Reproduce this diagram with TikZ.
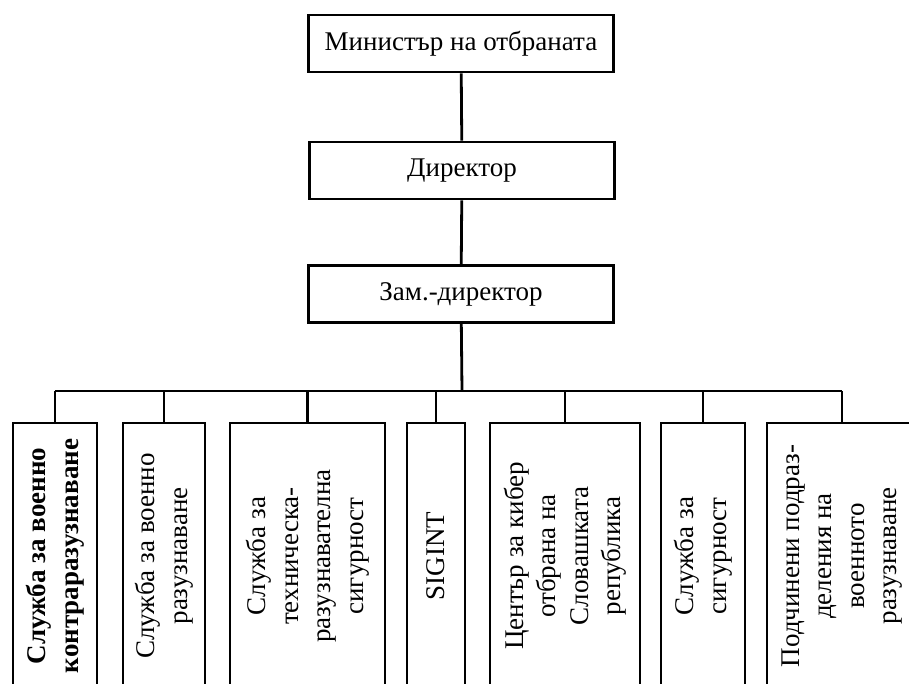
\documentclass[tikz,border=0pt]{standalone}
\usepackage{fontspec}
\setmainfont{Liberation Serif}
\begin{document}
\begin{tikzpicture}[x=1pt,y=1pt,
  box/.style={draw=black, line width=2.6pt, fill=white, inner sep=0pt, align=center,
    font=\fontsize{27}{32.5}\selectfont},
  topbox/.style={box, minimum width=305pt, minimum height=57pt},
  unit/.style={box, rotate=90, minimum width=266pt},
  link/.style={draw=black, line width=2.8pt}]
\useasboundingbox (0,0) rectangle (909,684);
\node[topbox] (min) at (461,640.5) {Министър на отбраната};
\node[topbox] (dir) at (462,513.5) {Директор};
\node[topbox] (zam) at (461,390) {Зам.-директор};
\coordinate (bus) at (462,293);
\node[unit, minimum height=84pt] (b1) at (55,128) {\bfseries Служба за военно\\\bfseries контраразузнаване};
\node[unit, minimum height=82pt] (b2) at (164,128) {Служба за военно\\разузнаване};
\node[unit, minimum height=155pt] (b3) at (307.5,128) {Служба за\\техническа-\\разузнавателна\\сигурност};
\node[unit, minimum height=58pt] (b4) at (436,128) {SIGINT};
\node[unit, minimum height=150pt] (b5) at (565,128) {Център за кибер\\отбрана на\\Словашката\\република};
\node[unit, minimum height=84pt] (b6) at (703,128) {Служба за\\сигурност};
\node[unit, minimum height=150pt] (b7) at (842,128) {Подчинени подраз-\\деления на\\военното\\разузнаване};
\draw[link] (min) -- (dir);
\draw[link] (dir) -- (zam);
\draw[link] (zam) -- (bus);
\draw[link] (b1.east |- bus) -- (b7.east |- bus);
\foreach \b in {b1,b2,b3,b4,b5,b6,b7} {
  \draw[link] (\b.east) -- (\b.east |- bus);
}
\end{tikzpicture}
\end{document}
